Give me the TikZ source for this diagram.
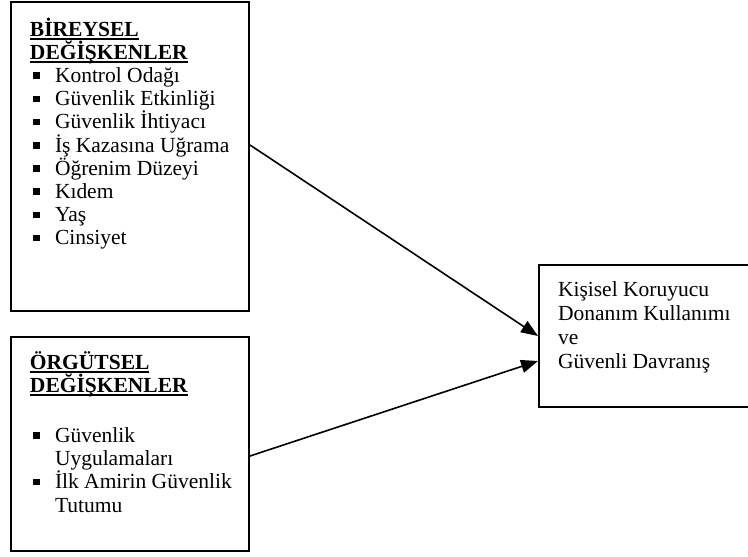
\documentclass[tikz,border=0pt]{standalone}
\usepackage{fontspec}
\setmainfont{Liberation Serif}
\usetikzlibrary{arrows.meta,positioning}

% bullet and underlined heading
\newcommand\sqbul{\makebox[25pt][l]{\hspace{3pt}\rule[3.5pt]{6.5pt}{6.5pt}}}
\newcommand\headul[1]{\smash{\textbf{\setbox0\hbox{#1}\rlap{\rule[-3.5pt]{\wd0}{1.7pt}}\box0}}}

\tikzset{
  varbox/.style={draw, line width=2pt, inner xsep=19pt, inner ysep=0pt, anchor=north west,
    font=\fontsize{21.5}{23.2}\selectfont},
  conn/.style={-{Triangle[length=17pt,width=13pt]}, line width=1.6pt}
}

\begin{document}
\begin{tikzpicture}[x=1pt,y=-1pt]
  \useasboundingbox (0,0) rectangle (748,557);
  % Individual variables
  \node[varbox] (bir) at (10,1) {\parbox[c][309pt][t]{200pt}{\raggedright\vspace*{34pt}%
    \headul{BİREYSEL}\\
    \headul{DEĞİŞKENLER}\\
    \sqbul Kontrol Odağı\\
    \sqbul Güvenlik Etkinliği\\
    \sqbul Güvenlik İhtiyacı\\
    \sqbul\mbox{İş Kazasına Uğrama}\\
    \sqbul Öğrenim Düzeyi\\
    \sqbul Kıdem\\
    \sqbul Yaş\\
    \sqbul Cinsiyet}};
  % Organizational variables
  \node[varbox] (org) at (10,336) {\parbox[c][214pt][t]{200pt}{\raggedright\vspace*{32pt}%
    \headul{ÖRGÜTSEL}\\
    \headul{DEĞİŞKENLER}\\[27pt]
    \sqbul Güvenlik\\
    \hspace*{25pt}Uygulamaları\\
    \sqbul\mbox{İlk Amirin Güvenlik}\\
    \hspace*{25pt}Tutumu}};
  % Outcome
  \node[varbox] (cik) at (538,264) {\parbox[c][142pt][t]{180pt}{\raggedright
    \baselineskip=24.3pt\vspace*{31pt}%
    \smash{Kişisel Koruyucu}\\
    \mbox{Donanım Kullanımı}\\
    ve\\
    Güvenli Davranış}};

  % Arrows
  \draw[conn] ([yshift=11.5pt]bir.east) -- (cik.west);
  \draw[conn] ([yshift=-12pt]org.east) -- ([yshift=-25pt]cik.west);
\end{tikzpicture}
\end{document}
